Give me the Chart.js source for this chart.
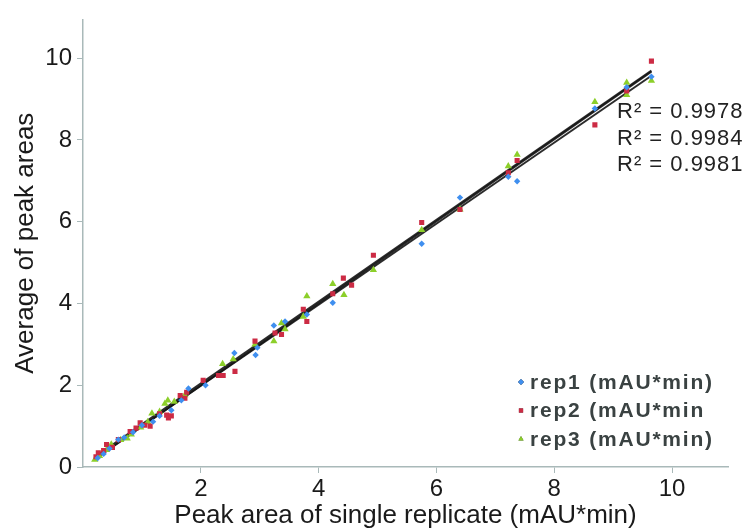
<!DOCTYPE html>
<html>
<head>
<meta charset="utf-8">
<script src="https://cdn.jsdelivr.net/npm/chart.js@4/dist/chart.umd.min.js"></script>
<style>
  html, body { margin: 0; background: #fff; }
  #wrap { width: 756px; height: 531px; }
</style>
</head>
<body>
<div id="wrap"><canvas id="peakChart"></canvas></div>
<script>
// values
const rep1X = [0.25, 0.35, 0.45, 0.6, 0.7, 0.85, 1.0, 1.19, 1.3, 1.5, 1.67, 1.79, 2.08, 2.57, 2.93, 2.96, 3.24, 3.43, 3.8, 4.24, 5.75, 6.4, 7.22, 7.37, 8.69, 9.23, 9.65];
const rep1Y = [0.22, 0.32, 0.45, 0.67, 0.72, 0.85, 1.02, 1.11, 1.25, 1.39, 1.63, 1.92, 2.0, 2.79, 2.74, 2.92, 3.46, 3.56, 3.73, 4.02, 5.46, 6.59, 7.1, 6.99, 8.77, 9.29, 9.55];

const rep2X = [0.22, 0.26, 0.35, 0.4, 0.5, 0.6, 0.8, 0.9, 0.97, 1.05, 1.14, 1.3, 1.42, 1.45, 1.5, 1.65, 1.73, 1.76, 2.04, 2.3, 2.38, 2.58, 2.92, 3.26, 3.37, 3.74, 3.8, 4.24, 4.42, 4.56, 4.93, 5.75, 6.4, 7.22, 7.37, 8.69, 9.23, 9.65];
const rep2Y = [0.25, 0.35, 0.4, 0.55, 0.48, 0.67, 0.87, 0.95, 1.08, 1.02, 1.0, 1.3, 1.27, 1.2, 1.25, 1.75, 1.68, 1.83, 2.12, 2.24, 2.24, 2.34, 3.08, 3.28, 3.24, 3.86, 3.56, 4.24, 4.62, 4.45, 5.18, 5.98, 6.3, 7.2, 7.5, 8.37, 9.2, 9.93];

const rep3X = [0.2, 0.28, 0.4, 0.48, 0.64, 0.75, 0.82, 0.98, 1.1, 1.17, 1.3, 1.39, 1.44, 1.55, 1.73, 2.37, 2.55, 2.92, 3.24, 3.37, 3.43, 3.74, 3.8, 4.24, 4.43, 4.93, 5.75, 6.4, 7.22, 7.37, 8.69, 9.23, 9.23, 9.65];
const rep3Y = [0.18, 0.27, 0.42, 0.55, 0.66, 0.7, 0.8, 0.97, 1.1, 1.31, 1.35, 1.55, 1.63, 1.6, 1.76, 2.52, 2.64, 3.0, 3.08, 3.52, 3.37, 3.68, 4.18, 4.48, 4.21, 4.82, 5.8, 6.3, 7.36, 7.64, 8.93, 9.4, 9.1, 9.45];

const seriesNames = ["rep1 (mAU*min)", "rep2 (mAU*min", "rep3 (mAU*min)"];
const rSquared = ["R\u00b2 = 0.9978", "R\u00b2 = 0.9984", "R\u00b2 = 0.9981"];
const xTicks = [2, 4, 6, 8, 10];
const yTicks = [0, 2, 4, 6, 8, 10];

const colors = ["#3f8fef", "#cc2b44", "#8ccf2a"];
const styles = ["rectRot", "rect", "triangle"];
const radii = [3.2, 3.6, 4.2];
const axisColor = "#a9b9b9";
const textColor = "#1a1a1a";

const toPoints = (xs, ys) => xs.map((x, i) => ({ x: x, y: ys[i] }));

// least squares trend line through one series
function trend(xs, ys) {
  const n = xs.length;
  const mx = xs.reduce((a, b) => a + b, 0) / n;
  const my = ys.reduce((a, b) => a + b, 0) / n;
  let sxy = 0, sxx = 0;
  xs.forEach((x, i) => { sxy += (x - mx) * (ys[i] - my); sxx += (x - mx) * (x - mx); });
  const k = sxy / sxx;
  const b = my - k * mx;
  const x0 = Math.min(...xs), x1 = Math.max(...xs);
  return [{ x: x0, y: k * x0 + b }, { x: x1, y: k * x1 + b }];
}

const series = [[rep1X, rep1Y], [rep2X, rep2Y], [rep3X, rep3Y]];

const datasets = [];
series.forEach(([xs, ys], i) => {
  datasets.push({
    label: seriesNames[i],
    data: toPoints(xs, ys),
    pointStyle: styles[i],
    pointRadius: radii[i],
    backgroundColor: colors[i],
    borderColor: colors[i],
    borderWidth: 0,
    showLine: false,
  });
});
series.forEach(([xs, ys]) => {
  datasets.push({
    label: "trend",
    data: trend(xs, ys),
    showLine: true,
    pointRadius: 0,
    borderColor: "rgba(20,20,20,0.9)",
    borderWidth: 2,
  });
});

// R² labels and the legend sit inside the plot
const notes = {
  id: "notes",
  afterDatasetsDraw(chart) {
    const ctx = chart.ctx;
    ctx.save();
    ctx.textBaseline = "middle";
    ctx.fillStyle = "#222";
    ctx.font = "22px 'Liberation Sans', Arial, sans-serif";
    ctx.letterSpacing = "1px";
    rSquared.forEach((t, i) => ctx.fillText(t, 617, 112 + i * 26.5));

    ctx.font = "bold 21px 'Liberation Sans', Arial, sans-serif";
    ctx.letterSpacing = "1.8px";
    seriesNames.forEach((t, i) => {
      const y = 382 + i * 28.5;
      Chart.helpers.drawPoint(ctx, { pointStyle: styles[i], radius: 3, borderWidth: 0 }, 521, y);
      ctx.fillStyle = colors[i];
      ctx.fill();
      ctx.fillStyle = "#3a4242";
      ctx.fillText(t, 530, y + 1);
    });
    ctx.restore();
  }
};

const fontFamily = "'Liberation Sans', Arial, sans-serif";
const tickFont = { family: fontFamily, size: 24 };
const titleFont = { family: fontFamily, size: 26 };

new Chart(document.getElementById("peakChart"), {
  type: "scatter",
  data: { datasets: datasets },
  options: {
    responsive: true,
    maintainAspectRatio: false,
    animation: false,
    layout: { padding: { top: 12, right: 28, left: 0, bottom: 0 } },
    plugins: {
      legend: { display: false },
      tooltip: { enabled: false },
    },
    scales: {
      x: {
        type: "linear",
        min: 0,
        max: 10.95,
        afterBuildTicks: (scale) => { scale.ticks = xTicks.map((v) => ({ value: v })); },
        afterFit: (scale) => { scale.height = 64; },
        border: { color: axisColor, width: 1.5 },
        grid: { drawOnChartArea: false, color: axisColor, tickLength: 6 },
        ticks: { font: tickFont, color: textColor, padding: 2, maxRotation: 0 },
        title: { display: true, text: "Peak area of single replicate (mAU*min)", font: titleFont, color: textColor, padding: { top: 0, bottom: 0 } },
      },
      y: {
        type: "linear",
        min: 0,
        max: 10.95,
        afterBuildTicks: (scale) => { scale.ticks = yTicks.map((v) => ({ value: v })); },
        afterFit: (scale) => { scale.width = 83; },
        border: { color: axisColor, width: 1.5 },
        grid: { drawOnChartArea: false, color: axisColor, tickLength: 6 },
        ticks: { font: tickFont, color: textColor, padding: 5 },
        title: { display: true, text: "Average of peak areas", font: titleFont, color: textColor, padding: { top: 10, bottom: 4 } },
      },
    },
  },
  plugins: [notes],
});
</script>
</body>
</html>
